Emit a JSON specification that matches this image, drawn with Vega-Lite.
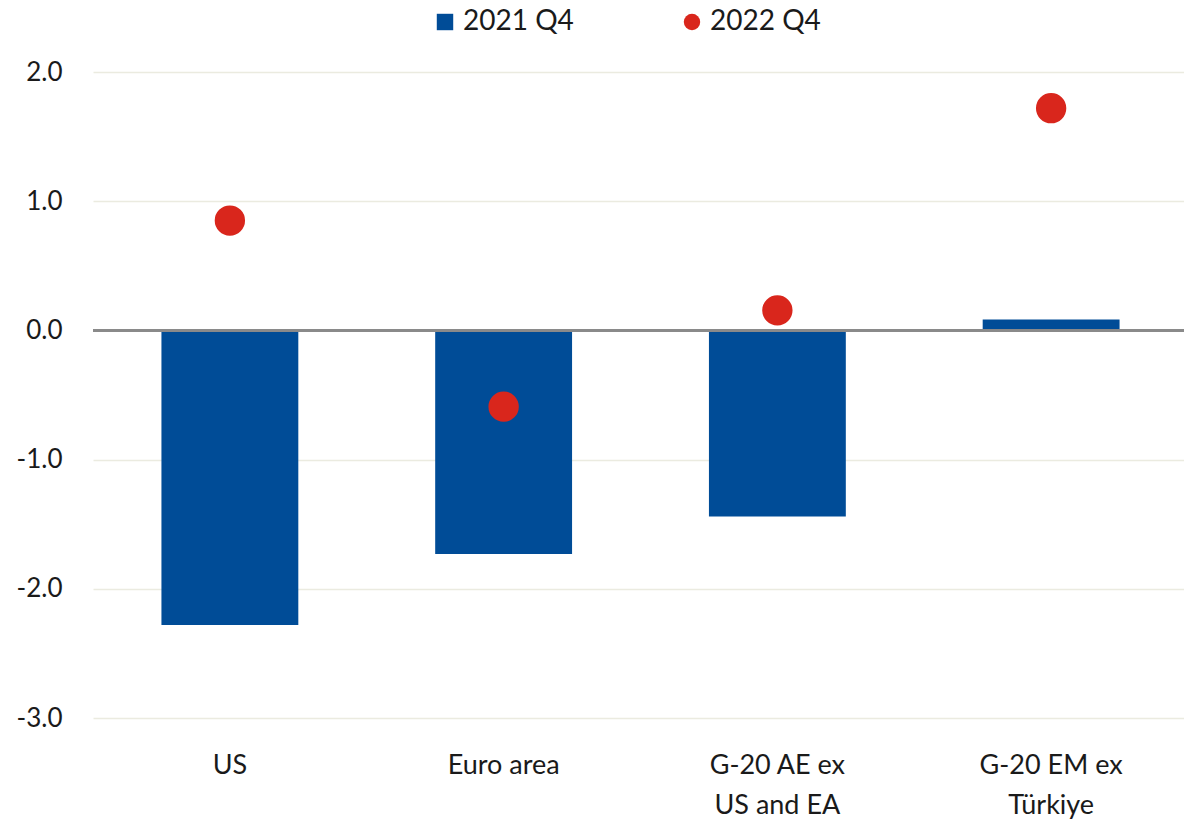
{
  "$schema": "https://vega.github.io/schema/vega-lite/v6.json",
  "autosize": "none",
  "width": 1095,
  "height": 646,
  "padding": {"left": 93, "top": 72, "right": 0, "bottom": 105},
  "background": "white",
  "config": {
    "font": "Lato",
    "view": {"stroke": null},
    "axis": {"labelFont": "Lato", "labelColor": "#1a1a1a"}
  },
  "data": {
    "values": [
      {"category": "US", "series": "2021 Q4", "value": -2.28},
      {"category": "Euro area", "series": "2021 Q4", "value": -1.73},
      {"category": "G-20 AE ex US and EA", "series": "2021 Q4", "value": -1.44},
      {"category": "G-20 EM ex Türkiye", "series": "2021 Q4", "value": 0.085},
      {"category": "US", "series": "2022 Q4", "value": 0.85},
      {"category": "Euro area", "series": "2022 Q4", "value": -0.59},
      {"category": "G-20 AE ex US and EA", "series": "2022 Q4", "value": 0.155},
      {"category": "G-20 EM ex Türkiye", "series": "2022 Q4", "value": 1.72}
    ]
  },
  "encoding": {
    "x": {
      "field": "category",
      "type": "nominal",
      "sort": null,
      "scale": {"paddingInner": 0.5, "paddingOuter": 0.25},
      "axis": {
        "title": null,
        "domain": false,
        "ticks": false,
        "grid": false,
        "labelAngle": 0,
        "labelFontSize": 27,
        "labelPadding": 34,
        "labelLineHeight": 40,
        "labelBaseline": "top",
        "labelExpr": "datum.value == 'G-20 AE ex US and EA' ? ['G-20 AE ex', 'US and EA'] : datum.value == 'G-20 EM ex Türkiye' ? ['G-20 EM ex', 'Türkiye'] : datum.value"
      }
    }
  },
  "layer": [
    {
      "transform": [{"filter": "datum.series == '2021 Q4'"}],
      "mark": {"type": "bar", "color": "#004C97"},
      "encoding": {
        "y": {
          "field": "value",
          "type": "quantitative",
          "scale": {"domain": [-3, 2], "nice": false},
          "axis": {
            "title": null,
            "domain": false,
            "ticks": false,
            "values": [-3, -2, -1, 0, 1, 2],
            "labelExpr": "replace(format(datum.value, '.1f'), '\u2212', '-')",
            "labelFontSize": 26,
            "labelPadding": 31,
            "gridColor": "#ebebe0",
            "gridWidth": 1.5
          }
        },
        "color": {
          "field": "series",
          "type": "nominal",
          "scale": {"domain": ["2021 Q4", "2022 Q4"], "range": ["#004C97", "#D9261C"]},
          "legend": {
            "title": null,
            "orient": "none",
            "legendX": 338,
            "legendY": -64,
            "direction": "horizontal",
            "labelFontSize": 28,
            "labelFont": "Lato",
            "labelColor": "#1a1a1a",
            "symbolSize": 270,
            "columnPadding": 104,
            "labelOffset": 4,
            "symbolOpacity": 1,
            "encode": {
              "symbols": {
                "update": {
                  "shape": {"signal": "datum.value == '2021 Q4' ? 'square' : 'circle'"}
                }
              }
            }
          }
        }
      }
    },
    {
      "transform": [{"filter": "datum.series == '2022 Q4'"}],
      "mark": {"type": "point", "filled": true, "size": 920, "opacity": 1, "shape": "circle"},
      "encoding": {
        "y": {"field": "value", "type": "quantitative"},
        "color": {"field": "series", "type": "nominal"}
      }
    },
    {
      "mark": {"type": "rule", "color": "#8a8a8a", "strokeWidth": 2},
      "encoding": {"y": {"datum": 0}, "x": {"value": 0}, "x2": {"value": 1095}}
    }
  ]
}
